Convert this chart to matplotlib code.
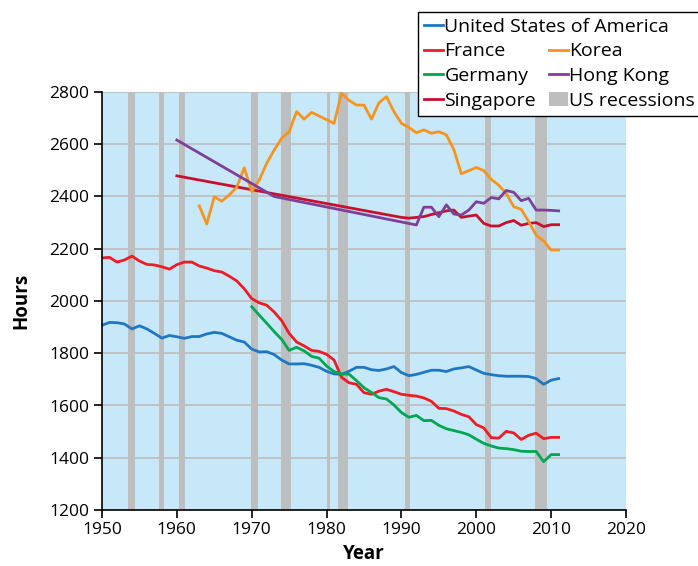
import matplotlib
matplotlib.use("Agg")
import matplotlib.pyplot as plt
from matplotlib.lines import Line2D
from matplotlib.patches import Patch

plt.rcParams['font.family'] = ['Open Sans', 'DejaVu Sans']

# annual hours worked per worker
us_years = list(range(1950, 2012))
us_hours = [1907, 1918, 1917, 1912, 1893, 1905, 1893, 1876, 1858, 1868,
            1863, 1857, 1864, 1864, 1874, 1880, 1876, 1863, 1850, 1843,
            1816, 1805, 1806, 1795, 1774, 1759, 1759, 1760, 1754, 1746,
            1731, 1721, 1719, 1731, 1746, 1746, 1737, 1734, 1740, 1749,
            1726, 1714, 1719, 1727, 1735, 1735, 1730, 1740, 1744, 1749,
            1736, 1723, 1718, 1714, 1712, 1712, 1712, 1711, 1703, 1681,
            1697, 1703]

france_years = list(range(1950, 2012))
france_hours = [2165, 2167, 2149, 2157, 2172, 2153, 2140, 2138, 2131, 2122,
                2139, 2149, 2149, 2134, 2126, 2116, 2111, 2095, 2077, 2047,
                2009, 1993, 1984, 1958, 1925, 1876, 1843, 1828, 1811, 1807,
                1796, 1774, 1708, 1687, 1681, 1649, 1643, 1655, 1662, 1653,
                1643, 1639, 1636, 1629, 1616, 1589, 1588, 1579, 1566, 1557,
                1527, 1514, 1477, 1475, 1501, 1495, 1470, 1486, 1494, 1473,
                1478, 1478]

germany_years = list(range(1970, 2012))
germany_hours = [1978, 1946, 1915, 1883, 1853, 1811, 1823, 1809, 1788, 1781,
                 1751, 1730, 1721, 1720, 1695, 1668, 1650, 1630, 1625, 1602,
                 1573, 1555, 1562, 1542, 1543, 1524, 1511, 1504, 1497, 1488,
                 1471, 1455, 1445, 1437, 1435, 1431, 1425, 1424, 1424, 1385,
                 1412, 1412]

korea_years = list(range(1963, 2012))
korea_hours = [2364, 2295, 2399, 2382, 2406, 2435, 2510,
               2419, 2463, 2527, 2578, 2623, 2648, 2725, 2696, 2722, 2708,
               2694, 2680, 2795, 2768, 2750, 2750, 2696, 2759, 2782, 2725,
               2680, 2664, 2644, 2655, 2642, 2648, 2636, 2580, 2487, 2499,
               2511, 2499, 2466, 2443, 2412, 2361, 2351, 2304, 2252, 2230,
               2195, 2195]

hk_years = [1960, 1973] + list(range(1992, 2012))
hk_hours = [2616, 2400,
            2291, 2359, 2359, 2323, 2368, 2333, 2329, 2348,
            2380, 2374, 2396, 2391, 2423, 2416, 2384, 2393, 2348, 2348,
            2347, 2345]

sg_years = [1960] + list(range(1990, 2012))
sg_hours = [2479,
            2320, 2317, 2320, 2323, 2331, 2338, 2345, 2348, 2320, 2325,
            2329, 2297, 2287, 2287, 2300, 2308, 2290, 2297, 2300, 2285,
            2292, 2292]

# NBER recession periods (start, end) as fractional years
recessions = [(1953.5, 1954.4), (1957.6, 1958.3), (1960.3, 1961.1),
              (1969.9, 1970.9), (1973.9, 1975.2), (1980.0, 1980.5),
              (1981.5, 1982.9), (1990.5, 1991.2), (2001.2, 2001.9),
              (2007.9, 2009.5)]

c_us = '#1f77c4'
c_fr = '#ee1c25'
c_de = '#00a651'
c_sg = '#c8102e'
c_kr = '#f7941d'
c_hk = '#7f3f98'
c_rec = '#bdbec0'


def main():
    fig = plt.figure(figsize=(6.98, 5.66), dpi=100)
    ax = fig.add_axes([102 / 698, 56 / 566, 524 / 698, 418 / 566])
    ax.set_facecolor('#c7e8f8')

    for start, end in recessions:
        ax.axvspan(start, end, color=c_rec, lw=0, zorder=1)

    lw = 2.0
    ax.plot(us_years, us_hours, color=c_us, lw=lw, zorder=3)
    ax.plot(france_years, france_hours, color=c_fr, lw=lw, zorder=3)
    ax.plot(germany_years, germany_hours, color=c_de, lw=lw, zorder=3)
    ax.plot(sg_years, sg_hours, color=c_sg, lw=lw, zorder=3)
    ax.plot(korea_years, korea_hours, color=c_kr, lw=lw, zorder=3)
    ax.plot(hk_years, hk_hours, color=c_hk, lw=lw, zorder=3)

    ax.set_xlim(1950, 2020)
    ax.set_ylim(1200, 2800)
    ax.set_xticks(range(1950, 2021, 10))
    ax.set_yticks(range(1200, 2801, 200))
    ax.yaxis.grid(True, color='#bdbdbd', lw=1.2, zorder=0)
    ax.set_axisbelow(True)

    for side in ['top', 'right']:
        ax.spines[side].set_visible(False)
    for side in ['left', 'bottom']:
        ax.spines[side].set_color('black')
        ax.spines[side].set_linewidth(1.2)
        ax.spines[side].set_zorder(4)
    ax.tick_params(direction='out', length=6, width=1.2, labelsize=12.5,
                   colors='black', pad=3)

    ax.set_xlabel('Year', fontsize=13.5, fontweight='bold', labelpad=4)
    ax.set_ylabel('Hours', fontsize=13.5, fontweight='bold', labelpad=13)

    handles = [
        Line2D([], [], color=c_us, lw=2),
        Line2D([], [], color=c_fr, lw=2),
        Line2D([], [], color=c_de, lw=2),
        Line2D([], [], color=c_sg, lw=2),
        Line2D([], [], color='none'),
        Line2D([], [], color=c_kr, lw=2),
        Line2D([], [], color=c_hk, lw=2),
        Patch(facecolor=c_rec, edgecolor='none'),
    ]
    labels = [' ', 'France', 'Germany', 'Singapore',
              ' ', 'Korea', 'Hong Kong', 'US recessions']
    leg = fig.legend(handles, labels, ncol=2, loc='upper left',
                     bbox_to_anchor=(418 / 698, 1 - 12 / 566),
                     fontsize=14, frameon=True, fancybox=False,
                     edgecolor='black', framealpha=1, borderpad=0.3,
                     borderaxespad=0, handlelength=1.0, handletextpad=0.05,
                     columnspacing=0.65, labelspacing=0.34)
    leg.get_frame().set_linewidth(1.0)

    # first row label spans both columns, so it is placed by hand
    fig.canvas.draw()
    texts = leg.get_texts()
    fr_box = texts[1].get_window_extent()
    de_box = texts[2].get_window_extent()
    inv = fig.transFigure.inverted()
    x0, y0 = inv.transform((fr_box.x0, 2 * fr_box.y0 - de_box.y0))
    fig.text(x0, y0, 'United States of America', fontsize=14,
             ha='left', va='bottom', zorder=10)

    fig.savefig('out.png', dpi=100)
    plt.close(fig)


if __name__ == "__main__":
    main()
